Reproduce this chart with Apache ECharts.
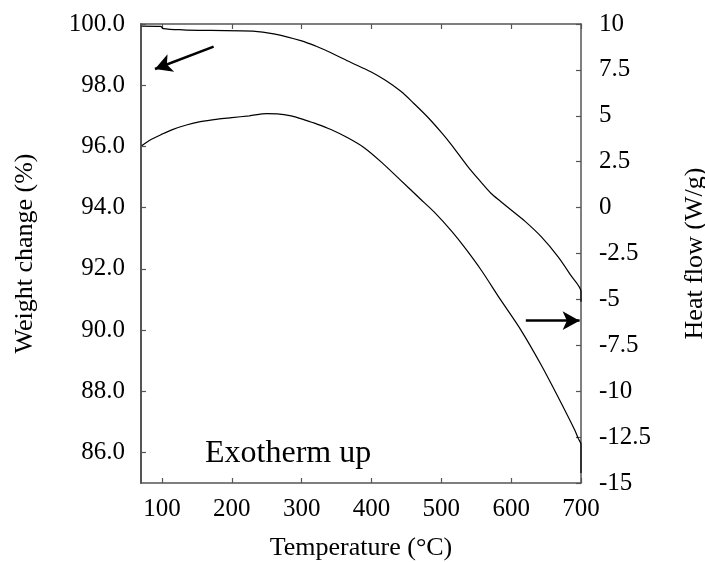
<!DOCTYPE html>
<html>
<head>
<meta charset="utf-8">
<script src="https://cdn.jsdelivr.net/npm/echarts@6/dist/echarts.min.js"></script>
<style>
  html, body { margin: 0; padding: 0; background: #fff; }
  #chart { width: 705px; height: 562px; }
</style>
</head>
<body>
<div id="chart"></div>
<script>
// TGA weight-loss trace (left axis, %)
const weightTemp = [71, 98, 102, 130, 170, 230, 260, 300, 320, 342, 370, 399, 420, 442, 460, 480, 500, 514, 538, 555, 571, 585, 600, 620, 643, 667, 685, 700, 700];
const weightPct  = [99.93, 99.92, 99.85, 99.81, 99.79, 99.77, 99.68, 99.45, 99.28, 99.06, 98.75, 98.44, 98.16, 97.80, 97.42, 96.97, 96.46, 96.07, 95.34, 94.88, 94.47, 94.2, 93.92, 93.55, 93.05, 92.4, 91.8, 91.25, 90.92];

// DSC heat-flow trace (right axis, W/g)
const heatTemp = [71, 85, 100, 115, 135, 155, 180, 200, 225, 250, 265, 285, 304, 322, 342, 366, 390, 415, 440, 470, 490, 515, 535, 557, 585, 614, 643, 667, 691, 696, 700, 700];
const heatFlow = [3.37, 3.72, 4.0, 4.25, 4.50, 4.68, 4.82, 4.90, 5.0, 5.12, 5.11, 5.0, 4.78, 4.55, 4.25, 3.80, 3.25, 2.45, 1.55, 0.47, -0.25, -1.3, -2.25, -3.40, -5.03, -6.67, -8.57, -10.3, -12.11, -12.57, -12.9, -14.45];

// Axis ticks
const tempTicks   = [100, 200, 300, 400, 500, 600, 700];
const weightTicks = [86, 88, 90, 92, 94, 96, 98, 100];

// Direction arrows: [temperature, value] from tail to head
const weightArrow = [[174, 99.26], [90, 98.53]];
const heatArrow   = [[621, -6.16], [698, -6.16]];

const FONT = '"Times New Roman", "Liberation Serif", serif';
const AXIS_COLOR = '#555';
const TICK_FONT = 25;
const TITLE_FONT = 26;

const zip = (xs, ys) => xs.map((x, i) => [x, ys[i]]);

const chart = echarts.init(document.getElementById('chart'), null, { renderer: 'canvas' });

const arrowLine = (pts) => ({
  silent: true,
  symbol: ['none', 'arrow'],
  symbolSize: [14, 17],
  label: { show: false },
  lineStyle: { color: '#000', width: 2.5, type: 'solid' },
  emphasis: { disabled: true },
  animation: false,
  data: [[{ coord: pts[0] }, { coord: pts[1] }]]
});

chart.setOption({
  animation: false,
  backgroundColor: '#fff',
  textStyle: { fontFamily: FONT, color: '#000' },
  grid: { left: 141, right: 124, top: 24, bottom: 79, outerBoundsMode: 'none' },
  xAxis: [
    {
      type: 'value', min: 70, max: 700, position: 'bottom',
      name: 'Temperature (°C)', nameLocation: 'middle', nameGap: 52,
      nameTextStyle: { fontFamily: FONT, fontSize: TITLE_FONT, color: '#000' },
      axisLine: { show: true, onZero: false, lineStyle: { color: AXIS_COLOR, width: 1.5 } },
      axisTick: { show: true, inside: true, length: 5, customValues: tempTicks, lineStyle: { color: AXIS_COLOR, width: 1.2 } },
      axisLabel: { customValues: tempTicks, fontFamily: FONT, fontSize: TICK_FONT, color: '#000', margin: 14 },
      splitLine: { show: false }
    },
    {
      type: 'value', min: 70, max: 700, position: 'top',
      axisLine: { show: true, onZero: false, lineStyle: { color: AXIS_COLOR, width: 1.5 } },
      axisTick: { show: true, inside: true, length: 5, customValues: tempTicks, lineStyle: { color: AXIS_COLOR, width: 1.2 } },
      axisLabel: { show: false },
      splitLine: { show: false }
    }
  ],
  yAxis: [
    {
      type: 'value', min: 85, max: 100, position: 'left',
      name: 'Weight change (%)', nameLocation: 'middle', nameRotate: 90, nameGap: 103,
      nameTextStyle: { fontFamily: FONT, fontSize: TITLE_FONT, color: '#000' },
      axisLine: { show: true, onZero: false, lineStyle: { color: AXIS_COLOR, width: 2 } },
      axisTick: { show: true, inside: true, length: 5, customValues: weightTicks, lineStyle: { color: AXIS_COLOR, width: 1.2 } },
      axisLabel: { customValues: weightTicks, formatter: v => v.toFixed(1), fontFamily: FONT, fontSize: TICK_FONT, color: '#000', margin: 16 },
      splitLine: { show: false }
    },
    {
      type: 'value', min: -15, max: 10, interval: 2.5, position: 'right',
      name: 'Heat flow (W/g)', nameLocation: 'middle', nameRotate: 90, nameGap: 101,
      nameTextStyle: { fontFamily: FONT, fontSize: TITLE_FONT, color: '#000' },
      axisLine: { show: true, onZero: false, lineStyle: { color: AXIS_COLOR, width: 1.5 } },
      axisTick: { show: true, inside: true, length: 5, lineStyle: { color: AXIS_COLOR, width: 1.2 } },
      axisLabel: { fontFamily: FONT, fontSize: TICK_FONT, color: '#000', margin: 18 },
      splitLine: { show: false }
    }
  ],
  series: [
    {
      name: 'Weight', type: 'line', xAxisIndex: 0, yAxisIndex: 0,
      data: zip(weightTemp, weightPct),
      showSymbol: false, smooth: 0.3,
      lineStyle: { color: '#000', width: 1.2 },
      markLine: arrowLine(weightArrow)
    },
    {
      name: 'Heat flow', type: 'line', xAxisIndex: 0, yAxisIndex: 1,
      data: zip(heatTemp, heatFlow),
      showSymbol: false, smooth: 0.3,
      lineStyle: { color: '#000', width: 1.2 },
      markLine: arrowLine(heatArrow)
    }
  ],
  graphic: [
    {
      type: 'text', left: 205, top: 438, silent: true,
      style: { text: 'Exotherm up', font: '32px ' + FONT, fill: '#000' }
    }
  ]
});
</script>
</body>
</html>
